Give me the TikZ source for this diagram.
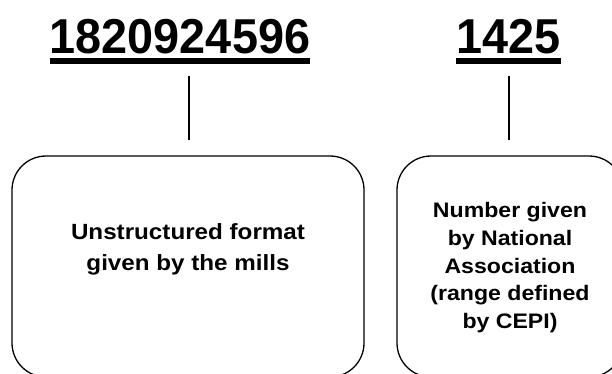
\documentclass[tikz,border=0pt]{standalone}
\usepackage{fontspec}
\setmainfont{Liberation Sans}
\newfontfamily\numfont[FakeStretch=0.955]{Liberation Sans}
\newfontfamily\boxfont[FakeStretch=1.1]{Liberation Sans}
\begin{document}
\begin{tikzpicture}[x=1pt,y=-1pt,
  numtext/.style={font=\numfont\bfseries\fontsize{49}{58}\selectfont, inner sep=0pt, anchor=base},
  uline/.style={line width=6pt},
  conn/.style={line width=2.5pt},
  roundbox/.style={draw, line width=1.3pt, rounded corners=34pt, inner sep=0pt, minimum height=221pt},
  boxtext/.style={align=center, inner sep=0pt, anchor=north}]
\useasboundingbox (0,0) rectangle (612,374);
\clip (0,0) rectangle (612,374);
\fill[white] (0,0) rectangle (612,374);
% numbers
\node[numtext] (n1) at (180,54) {1820924596};
\node[numtext] (n2) at (508.5,54) {1425};
\draw[uline] ([yshift=-7pt]n1.base west) -- ([yshift=-7pt]n1.base east);
\draw[uline] ([yshift=-7pt]n2.base west) -- ([yshift=-7pt]n2.base east);
% boxes
\node[roundbox, minimum width=352pt] (b1) at (188,266.5) {};
\node[roundbox, minimum width=226pt] (b2) at (510,266.5) {};
% box texts
\node[boxtext, font=\boxfont\bfseries\fontsize{22}{31}\selectfont] (t1) at (188,223) {Unstructured format\\given by the mills};
\node[boxtext, font=\boxfont\bfseries\fontsize{21}{27.6}\selectfont] (t2) at (510,202.4) {Number given\\by National\\Association\\(range defined\\by CEPI)};
% connectors
\path (n1.base -| b1.north) ++(1,22) coordinate (c1);
\path (n2.base -| b2.north) ++(-1,22) coordinate (c2);
\path ([yshift=15pt]b1.north) coordinate (d1);
\path ([yshift=15pt]b2.north) coordinate (d2);
\draw[conn] (c1) -- (c1 |- d1);
\draw[conn] (c2) -- (c2 |- d2);
\end{tikzpicture}
\end{document}
